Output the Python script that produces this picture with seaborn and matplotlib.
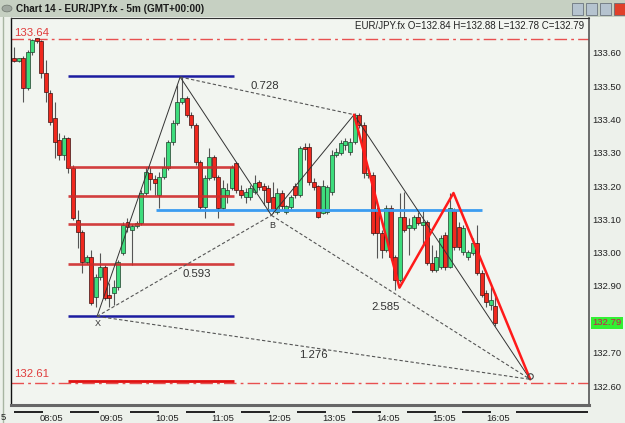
import numpy as np
import pandas as pd
import matplotlib
matplotlib.use("Agg")
import matplotlib.pyplot as plt
from matplotlib.patches import Rectangle, Circle
import seaborn as sns

# ---------------- data ----------------
opens = [133.584, 133.575, 133.584, 133.494, 133.602, 133.644, 133.635, 133.539, 133.479, 133.404,
         133.338, 133.293, 133.344, 133.254, 133.098, 133.062, 132.972, 132.987, 132.867, 132.927,
         132.957, 132.873, 132.879, 132.897, 132.999, 133.092, 133.068, 133.080, 133.089, 133.179,
         133.239, 133.221, 133.173, 133.227, 133.254, 133.332, 133.389, 133.452, 133.464, 133.413,
         133.383, 133.272, 133.137, 133.224, 133.287, 133.227, 133.134, 133.173, 133.194, 133.269,
         133.188, 133.167, 133.167, 133.182, 133.212, 133.200, 133.194, 133.167, 133.122, 133.179,
         133.122, 133.137, 133.200, 133.173, 133.317, 133.317, 133.212, 133.200, 133.119, 133.122,
         133.182, 133.293, 133.299, 133.323, 133.302, 133.332, 133.413, 133.383, 133.233, 133.233,
         133.128, 133.059, 133.008, 133.134, 132.987, 132.918, 133.107, 133.074, 133.074, 133.107,
         133.083, 133.092, 132.969, 132.948, 132.957, 133.053, 132.957, 133.128, 133.077, 133.002,
         132.987, 132.999, 133.029, 132.939, 132.879, 132.843, 132.84]
highs = [133.617, 133.584, 133.590, 133.608, 133.641, 133.644, 133.638, 133.578, 133.488, 133.452,
         133.359, 133.353, 133.347, 133.263, 133.128, 133.068, 132.993, 133.008, 132.936, 132.999,
         132.963, 132.909, 132.918, 132.978, 133.092, 133.104, 133.086, 133.095, 133.188, 133.257,
         133.257, 133.233, 133.242, 133.287, 133.338, 133.398, 133.503, 133.527, 133.470, 133.422,
         133.389, 133.278, 133.233, 133.314, 133.293, 133.233, 133.218, 133.209, 133.263, 133.272,
         133.203, 133.194, 133.203, 133.233, 133.218, 133.209, 133.203, 133.212, 133.194, 133.188,
         133.143, 133.173, 133.209, 133.320, 133.329, 133.329, 133.224, 133.203, 133.218, 133.203,
         133.308, 133.314, 133.338, 133.344, 133.344, 133.419, 133.419, 133.392, 133.248, 133.242,
         133.137, 133.068, 133.143, 133.143, 132.993, 133.179, 133.182, 133.104, 133.113, 133.122,
         133.128, 133.098, 133.023, 133.008, 133.053, 133.062, 133.179, 133.134, 133.092, 133.083,
         133.008, 133.044, 133.083, 132.948, 132.888, 132.897, 132.88]
lows = [133.572, 133.572, 133.452, 133.488, 133.593, 133.629, 133.524, 133.452, 133.383, 133.284,
        133.278, 133.278, 133.239, 133.098, 133.014, 132.939, 132.966, 132.843, 132.837, 132.918,
        132.858, 132.837, 132.843, 132.888, 132.993, 133.062, 132.963, 133.074, 133.083, 133.173,
        133.188, 133.173, 133.134, 133.221, 133.248, 133.323, 133.383, 133.446, 133.407, 133.374,
        133.263, 133.128, 133.104, 133.218, 133.218, 133.104, 133.128, 133.149, 133.188, 133.179,
        133.164, 133.149, 133.158, 133.176, 133.188, 133.143, 133.128, 133.119, 133.116, 133.128,
        133.116, 133.128, 133.164, 133.167, 133.278, 133.203, 133.188, 133.104, 133.116, 133.116,
        133.173, 133.287, 133.293, 133.308, 133.293, 133.326, 133.374, 133.224, 133.224, 133.053,
        132.984, 132.984, 133.002, 132.978, 132.888, 132.912, 133.062, 132.993, 133.068, 133.083,
        133.023, 132.963, 132.942, 132.942, 132.951, 132.948, 132.954, 133.008, 133.008, 132.993,
        132.978, 132.993, 132.933, 132.867, 132.837, 132.828, 132.78]
closes = [133.575, 133.584, 133.494, 133.602, 133.638, 133.635, 133.539, 133.482, 133.392, 133.332,
          133.293, 133.344, 133.254, 133.104, 133.062, 132.972, 132.987, 132.849, 132.927, 132.957,
          132.864, 132.864, 132.897, 132.972, 133.083, 133.077, 133.080, 133.089, 133.179, 133.242,
          133.221, 133.209, 133.227, 133.257, 133.332, 133.389, 133.452, 133.464, 133.413, 133.383,
          133.272, 133.137, 133.224, 133.287, 133.227, 133.134, 133.194, 133.188, 133.257, 133.188,
          133.173, 133.182, 133.194, 133.209, 133.197, 133.188, 133.152, 133.128, 133.179, 133.140,
          133.140, 133.167, 133.173, 133.314, 133.311, 133.212, 133.197, 133.107, 133.200, 133.197,
          133.293, 133.302, 133.329, 133.335, 133.332, 133.413, 133.383, 133.239, 133.239, 133.059,
          133.059, 133.008, 133.134, 132.987, 132.918, 133.107, 133.068, 133.083, 133.107, 133.089,
          133.092, 132.969, 132.948, 132.987, 133.044, 132.957, 133.134, 133.017, 133.017, 133.074,
          133.002, 133.029, 132.939, 132.873, 132.852, 132.858, 132.79]

time_ticks = [-4.0, 8.3, 21.5, 33.8, 46.0, 58.4, 70.5, 82.5, 94.7, 106.6]
time_labels = ["07:05", "08:05", "09:05", "10:05", "11:05", "12:05", "13:05", "14:05", "15:05", "16:05"]
first_label_tail = "5"   # only the last character of the first label is visible
price_ticks = [133.60, 133.50, 133.40, 133.30, 133.20, 133.10, 133.00, 132.90, 132.80, 132.70, 132.60]
price_labels = ["133.60", "133.50", "133.40", "133.30", "133.20", "133.10", "133.00", "132.90", "", "132.70", "132.60"]

# harmonic pattern points X, A, B, C, D (bar index, price)
pattern_names = ["X", "A", "B", "C", "D"]
pattern_idx = [18.3, 36.6, 56.7, 74.9, 113.7]
pattern_price = [132.809, 133.527, 133.112, 133.414, 132.620]

zigzag_idx = [74.9, 84.9, 96.8, 113.7]
zigzag_price = [133.414, 132.895, 133.179, 132.620]

ratio_labels = ["0.728", "0.593", "2.585", "1.276"]
ratio_idx = [55.3, 40.3, 81.9, 65.9]
ratio_price = [133.500, 132.935, 132.836, 132.692]

navy_levels = [133.530, 132.809]
red_levels = [133.257, 133.169, 133.085, 132.965]
bottom_level = 132.616
fib_span = [11.9, 48.5]
blue_level = 133.127
blue_span = [31.3, 103.1]
day_high = 133.64
day_low = 132.61
last_close = 132.79
header = "EUR/JPY.fx O=132.84 H=132.88 L=132.78 C=132.79"
title = "Chart 14 - EUR/JPY.fx - 5m (GMT+00:00)"

# ---------------- style ----------------
sns.set_style("white")
plt.rcParams['font.family'] = ['Liberation Sans', 'DejaVu Sans']

W, H = 625, 423
fig = plt.figure(figsize=(W / 100, H / 100), dpi=100, facecolor="#edf1eb")
ax = fig.add_axes([11 / W, 18 / H, 578 / W, 387 / H])
ax.set_facecolor("#f2f5f0")

df = pd.DataFrame({"open": opens, "high": highs, "low": lows, "close": closes})
df["idx"] = np.arange(len(df))
up = df["close"] >= df["open"]
body_bottom = np.minimum(df["open"], df["close"])
body_h = np.maximum((df["close"] - df["open"]).abs(), 0.0025)

ax.vlines(df["idx"], df["low"], df["high"], color="#555555", lw=0.8, zorder=2)
ax.bar(df["idx"][up], body_h[up], bottom=body_bottom[up], width=0.88,
       color="#3ddc7c", edgecolor="#1f3b29", lw=0.5, zorder=3)
ax.bar(df["idx"][~up], body_h[~up], bottom=body_bottom[~up], width=0.88,
       color="#f0281e", edgecolor="#3b1010", lw=0.5, zorder=3)

# day high / low dash-dot lines
for lvl in (day_high, day_low):
    ax.axhline(lvl, color="#e85050", lw=1.0, ls=(0, (9, 3, 2, 3)), zorder=1)

# fibonacci style levels
ax.hlines(navy_levels, fib_span[0], fib_span[1], color="#1c1ca0", lw=1.8, zorder=4)
ax.hlines(red_levels, fib_span[0], fib_span[1], color="#cf2a2a", lw=1.9, alpha=0.9, zorder=4)
ax.hlines([bottom_level], fib_span[0], fib_span[1], color="#e01010", lw=2.0, zorder=4)
ax.hlines([blue_level], blue_span[0], blue_span[1], color="#3b9cf0", lw=2.0, zorder=4)

# pattern lines
pat = pd.DataFrame({"idx": pattern_idx, "price": pattern_price, "name": pattern_names})
sns.lineplot(data=pat, x="idx", y="price", sort=False, estimator=None,
             color="#333333", lw=0.7, ax=ax, zorder=5)
for a, b in [(0, 2), (1, 3), (2, 4), (0, 4)]:
    seg = pat.iloc[[a, b]]
    sns.lineplot(data=seg, x="idx", y="price", sort=False, estimator=None,
                 color="#555555", lw=0.8, ax=ax, zorder=5, dashes=False,
                 linestyle=(0, (3, 2)))
zz = pd.DataFrame({"idx": zigzag_idx, "price": zigzag_price})
sns.lineplot(data=zz, x="idx", y="price", sort=False, estimator=None,
             color="#ff1a1a", lw=1.8, ax=ax, zorder=6)
ax.plot([pattern_idx[4]], [pattern_price[4] + 0.010], marker="o", ms=4,
        mfc="none", mec="#444444", mew=0.8, zorder=7)

for lab, xi, yp in zip(ratio_labels, ratio_idx, ratio_price):
    ax.text(xi, yp, lab, fontsize=8.2, color="#333333", ha="center", va="center", zorder=8)
ax.text(pattern_idx[0] + 0.2, pattern_price[0] - 0.020, "X", fontsize=6.5, color="#333333",
        ha="center", va="center", zorder=8)
ax.text(pattern_idx[2] + 0.1, pattern_price[2] - 0.030, "B", fontsize=6.5, color="#333333",
        ha="center", va="center", zorder=8)

ax.text(0.0, day_high + 0.018, "133.64", fontsize=8.2, color="#e03c3c", ha="left", va="center")
ax.text(0.1, day_low + 0.025, "132.61", fontsize=8.2, color="#e03c3c", ha="left", va="center")
ax.text(0.991, 0.979, header, transform=ax.transAxes, fontsize=7, color="#222222",
        ha="right", va="center")

# axes limits, ticks
ax.set_xlim(-0.66, 126.65)
ax.set_ylim(132.543, 133.704)
ax.set_xticks(time_ticks[1:])
ax.set_xticklabels(time_labels[1:])
ax.set_yticks(price_ticks)
ax.set_yticklabels(price_labels)
ax.yaxis.tick_right()
ax.tick_params(axis="x", length=0, pad=6.5, labelsize=6.8, colors="#222222")
ax.tick_params(axis="y", length=0, pad=2.5, labelsize=6.8, colors="#222222")
ax.set_xlabel("")
ax.set_ylabel("")
fig.text(0.5 / W, 1 - 417.5 / H, first_label_tail, fontsize=6.8, color="#222222",
         ha="left", va="center")

# last price box
ax.text(1.006, last_close, f"{last_close:.2f}", transform=ax.get_yaxis_transform(),
        fontsize=6.8, color="#d01050", ha="left", va="center", clip_on=False,
        bbox=dict(boxstyle="square,pad=0.15", fc="#33f033", ec="none"))

for side, sp in ax.spines.items():
    sp.set_visible(True)
ax.spines["left"].set_color("#111111"); ax.spines["left"].set_linewidth(1.0)
ax.spines["top"].set_color("#333333"); ax.spines["top"].set_linewidth(0.8)
ax.spines["right"].set_color("#555555"); ax.spines["right"].set_linewidth(1.2)
ax.spines["bottom"].set_color("#666666"); ax.spines["bottom"].set_linewidth(2.2)

# time ruler segments under the axis
xt = ax.get_xaxis_transform()
for k, t in enumerate(time_ticks):
    x0 = t + 4.0
    x1 = t + 10.4 if k < len(time_ticks) - 1 else 126.5
    ax.plot([x0, x1], [-0.0175, -0.0175], transform=xt, color="#111111", lw=1.3,
            clip_on=False, solid_capstyle="butt")

# window chrome
fig.add_artist(Rectangle((0, 1 - 17 / H), 1, 17 / H, transform=fig.transFigure,
                         fc="#c6d0c2", ec="none"))
fig.text(16 / W, 1 - 9 / H, title, fontsize=7.2, fontweight="bold", color="#1a1a1a",
         ha="left", va="center")
fig.add_artist(Circle((7 / W, 1 - 8.5 / H), 5 / W, transform=fig.transFigure,
                      fc="#a0a8a0", ec="#707870", lw=0.5))
for i, (x0, c) in enumerate([(572, "#b5c3cf"), (586, "#b5c3cf"), (600, "#b5c3cf"), (614, "#e0402a")]):
    fig.add_artist(Rectangle((x0 / W, 1 - 15 / H), 11 / W, 12 / H, transform=fig.transFigure,
                             fc=c, ec="#5a6470", lw=0.5))
fig.add_artist(plt.Line2D([2.5 / W, 2.5 / W], [0, 1 - 17 / H], transform=fig.transFigure,
                          color="#a8b5a2", lw=1))

fig.savefig("out.png", dpi=100, facecolor=fig.get_facecolor())
